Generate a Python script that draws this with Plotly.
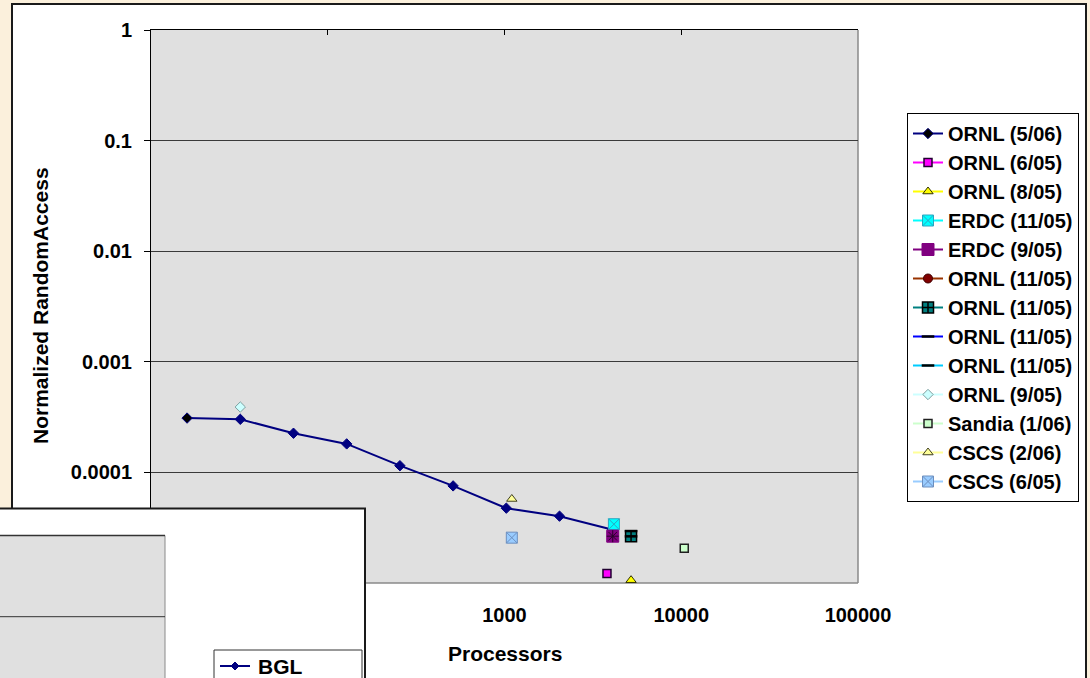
import plotly.graph_objects as go

# ---- data: processors vs. normalized RandomAccess ----
ornl_506_procs = [16, 32, 64, 128, 256, 512, 1024, 2048, 4096]
ornl_506_ra = [3.1e-4, 3.02e-4, 2.26e-4, 1.81e-4, 1.15e-4, 7.55e-5, 4.75e-5, 4.02e-5, 3.03e-5]

ornl_605_procs = [3800]
ornl_605_ra = [1.22e-5]

ornl_805_procs = [5200]
ornl_805_ra = [1.06e-5]

erdc_1105_procs = [4160]
erdc_1105_ra = [3.4e-5]

erdc_905_procs = [4096]
erdc_905_ra = [2.65e-5]

ornl_1105a_procs = [5200]
ornl_1105a_ra = [2.64e-5]

ornl_1105b_procs = [5200]
ornl_1105b_ra = [2.64e-5]

ornl_1105c_procs = [5200]
ornl_1105c_ra = [2.95e-5]

ornl_1105d_procs = [5200]
ornl_1105d_ra = [2.64e-5]

ornl_905_procs = [32]
ornl_905_ra = [3.9e-4]

sandia_106_procs = [10400]
sandia_106_ra = [2.06e-5]

cscs_206_procs = [1100]
cscs_206_ra = [5.75e-5]

cscs_605_procs = [1100]
cscs_605_ra = [2.57e-5]

x_tickvals = [10, 100, 1000, 10000, 100000]
x_ticktext = ["10", "100", "1000", "10000", "100000"]
y_tickvals = [1e-4, 1e-3, 1e-2, 1e-1, 1]
y_ticktext = ["0.0001", "0.001", "0.01", "0.1", "1"]

FONT = "Liberation Sans, Arial, sans-serif"
W, H = 1090, 678
L, R, T, B = 151, 858, 30, 583


def px(x):
    return (x - L) / (R - L)


def py(y):
    return (B - y) / (B - T)


fig = go.Figure()


def add_series(x, y, name, line_color, symbol, size, fill, edge, edge_w=1, line_w=2,
               show=True, colors=None):
    fig.add_trace(go.Scatter(
        x=x, y=y, name=name, mode="lines+markers", showlegend=show,
        line=dict(color=line_color, width=line_w),
        marker=dict(symbol=symbol, size=size, color=colors if colors else fill,
                    line=dict(color=edge, width=edge_w)),
    ))


navy = "#000080"
add_series(ornl_506_procs, ornl_506_ra, "ORNL (5/06)", navy, "diamond", 8, navy, navy,
           colors=["#000000"] + [navy] * (len(ornl_506_procs) - 1))
add_series(ornl_605_procs, ornl_605_ra, "ORNL (6/05)", "#ff00ff", "square", 8, "#ff00ff", "#200030", 1.5)
add_series(ornl_805_procs, ornl_805_ra, "ORNL (8/05)", "#ffff00", "triangle-up", 9, "#ffff00", "#303000", 1)
add_series(erdc_1105_procs, erdc_1105_ra, "ERDC (11/05)", "#00ffff", "square-x", 11, "#00ffff", "#2aa6c0", 1)
add_series(erdc_905_procs, erdc_905_ra, "ERDC (9/05)", "#800080", "square", 12, "#800080", "#800080", 1)
add_series(ornl_1105a_procs, ornl_1105a_ra, "ORNL (11/05)", "#993300", "circle", 9, "#800000", "#400000", 1)
add_series(ornl_1105b_procs, ornl_1105b_ra, "ORNL (11/05)", "#008080", "square-cross", 11, "#008080", "#000000", 1.5)
add_series(ornl_1105c_procs, ornl_1105c_ra, "ORNL (11/05)", "#0000ff", "line-ew", 9, "#000000", "#000000", 2.5)
add_series(ornl_1105d_procs, ornl_1105d_ra, "ORNL (11/05)", "#00ccff", "line-ew", 9, "#000000", "#000000", 2.5)
add_series(ornl_905_procs, ornl_905_ra, "ORNL (9/05)", "#ccffff", "diamond", 8, "#ccffff", "#7f9f9f", 1)
add_series(sandia_106_procs, sandia_106_ra, "Sandia (1/06)", "#ccffcc", "square", 8, "#ccffcc", "#202020", 1.5)
add_series(cscs_206_procs, cscs_206_ra, "CSCS (2/06)", "#ffff99", "triangle-up", 9, "#ffff99", "#404020", 1)
add_series(cscs_605_procs, cscs_605_ra, "CSCS (6/05)", "#99ccff", "square-x", 11, "#99ccff", "#6d8fbf", 1)

# asterisk glyph over the ERDC (9/05) square
fig.add_trace(go.Scatter(
    x=erdc_905_procs, y=erdc_905_ra, mode="markers", showlegend=False, hoverinfo="skip",
    marker=dict(symbol="asterisk-open", size=10, color="#2a002a",
                line=dict(color="#2a002a", width=1)),
))

# top axis carrying the inside tick marks
fig.add_trace(go.Scatter(x=[], y=[], xaxis="x2", showlegend=False, hoverinfo="skip"))

tick_font = dict(family=FONT, size=20, color="#000000", weight="bold")

fig.update_layout(
    width=W, height=H,
    margin=dict(l=L, r=W - R, t=T, b=H - B, pad=0, autoexpand=False),
    paper_bgcolor="#fbf0dc",
    plot_bgcolor="rgba(0,0,0,0)",
    xaxis=dict(type="log", range=[1, 5], tickvals=x_tickvals, ticktext=x_ticktext,
               ticks="", showline=False, showgrid=False, zeroline=False,
               tickfont=tick_font, ticklabelstandoff=18),
    xaxis2=dict(type="log", range=[1, 5], overlaying="x", anchor="y", side="top",
                tickvals=x_tickvals, ticks="inside", ticklen=5, tickcolor="#000000",
                showticklabels=False, showline=True, linecolor="#000000", linewidth=1,
                showgrid=False),
    yaxis=dict(type="log", range=[-5, 0], tickvals=y_tickvals, ticktext=y_ticktext,
               ticks="outside", ticklen=6, tickcolor="#000000",
               showline=True, linecolor="#000000", linewidth=1,
               showgrid=True, gridcolor="#3a3a3a", gridwidth=1,
               tickfont=tick_font, ticklabelstandoff=8),
    legend=dict(x=px(907), y=py(113), xanchor="left", yanchor="top",
                bgcolor="#ffffff", bordercolor="#000000", borderwidth=1,
                font=dict(family=FONT, size=20, color="#000000", weight="bold"),
                itemwidth=30, tracegroupgap=0),
    showlegend=True,
)

shapes = [
    # chart frame
    dict(type="rect", xref="paper", yref="paper", x0=px(12), x1=px(1086), y0=py(700), y1=py(4),
         fillcolor="#ffffff", line=dict(color="#1a1a1a", width=2), layer="below"),
    # plot area
    dict(type="rect", xref="paper", yref="paper", x0=0, x1=1, y0=0, y1=1,
         fillcolor="#e0e0e0", line=dict(width=0), layer="below"),
    dict(type="line", xref="paper", yref="paper", x0=1, x1=1, y0=0, y1=1,
         line=dict(color="#8a8a8a", width=1.5), layer="between"),
    dict(type="line", xref="paper", yref="paper", x0=0, x1=1, y0=0, y1=0,
         line=dict(color="#8a8a8a", width=1.5), layer="between"),
    # second chart panel lying on top at the lower left
    dict(type="rect", xref="paper", yref="paper", x0=px(-5), x1=px(365), y0=py(700), y1=py(508.5),
         fillcolor="#ffffff", line=dict(color="#1a1a1a", width=2), layer="above"),
    dict(type="rect", xref="paper", yref="paper", x0=px(-5), x1=px(165), y0=py(700), y1=py(535.5),
         fillcolor="#e0e0e0", line=dict(color="#8a8a8a", width=1), layer="above"),
    dict(type="line", xref="paper", yref="paper", x0=px(-5), x1=px(165), y0=py(535.5), y1=py(535.5),
         line=dict(color="#333333", width=1.5), layer="above"),
    dict(type="line", xref="paper", yref="paper", x0=px(-5), x1=px(165), y0=py(616.7), y1=py(616.7),
         line=dict(color="#333333", width=1), layer="above"),
    dict(type="rect", xref="paper", yref="paper", x0=px(214), x1=px(362), y0=py(700), y1=py(650),
         fillcolor="#ffffff", line=dict(color="#333333", width=1), layer="above"),
    dict(type="line", xref="paper", yref="paper", x0=px(220), x1=px(250), y0=py(666), y1=py(666),
         line=dict(color=navy, width=2), layer="above"),
    dict(type="path", xref="paper", yref="paper",
         path=(f"M {px(231)},{py(666)} L {px(235)},{py(662)} L {px(239)},{py(666)} "
               f"L {px(235)},{py(670)} Z"),
         fillcolor=navy, line=dict(color=navy, width=1), layer="above"),
]
fig.update_layout(shapes=shapes)

title_font = dict(family=FONT, size=21, color="#000000", weight="bold")
fig.update_layout(annotations=[
    dict(text="Normalized RandomAccess", xref="paper", yref="paper", x=px(40), y=py(306),
         xanchor="center", yanchor="middle", textangle=-90, showarrow=False, font=title_font),
    dict(text="Processors", xref="paper", yref="paper", x=px(505), y=py(653),
         xanchor="center", yanchor="middle", showarrow=False, font=title_font),
    dict(text="BGL", xref="paper", yref="paper", x=px(256), y=py(666),
         xanchor="left", yanchor="middle", showarrow=False, font=title_font),
])

fig.write_html("out.html")
